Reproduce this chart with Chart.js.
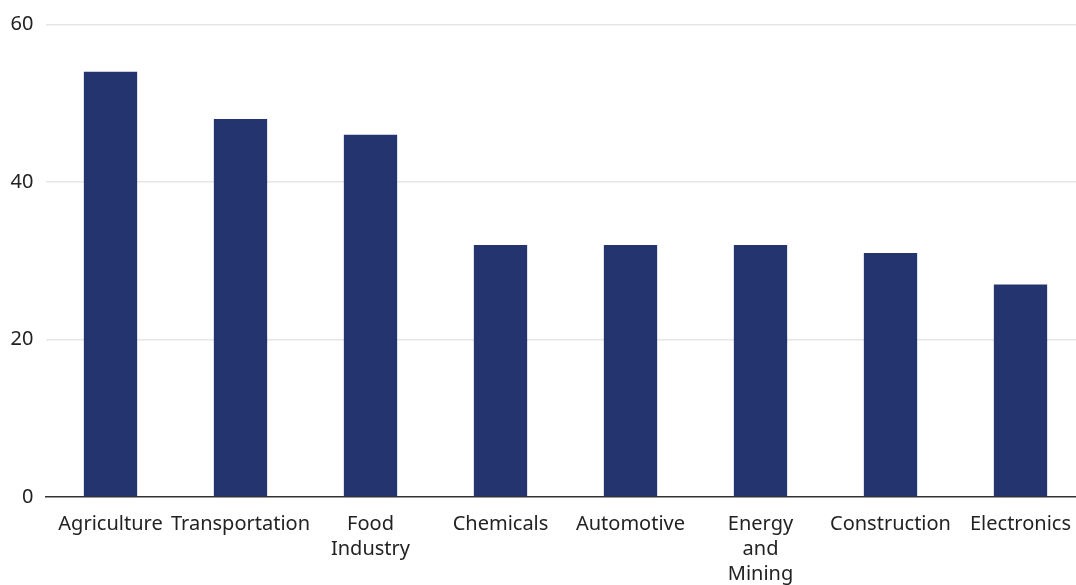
<!DOCTYPE html>
<html>
<head>
<meta charset="utf-8">
<script src="https://cdn.jsdelivr.net/npm/chart.js@4"></script>
<style>
html,body{margin:0;padding:0;background:#fff;overflow:hidden;}
#wrap{position:relative;width:1090px;height:585px;}
</style>
</head>
<body>
<div id="wrap"><canvas id="c" width="1090" height="585"></canvas></div>
<script>
const categories = [
  "Agriculture",
  "Transportation",
  ["Food", "Industry"],
  "Chemicals",
  "Automotive",
  ["Energy", "and", "Mining"],
  "Construction",
  "Electronics"
];
const values = [54, 48, 46, 32, 32, 32, 31, 27];
const yTicks = [0, 20, 40, 60];

const FONT = {family: "'Noto Sans', sans-serif", size: 20, lineHeight: 1.25};

new Chart(document.getElementById('c'), {
  type: 'bar',
  data: {
    labels: categories,
    datasets: [{
      data: values,
      backgroundColor: '#24346e',
      borderWidth: 0,
      categoryPercentage: 1,
      barPercentage: 0.41
    }]
  },
  options: {
    responsive: false,
    animation: false,
    devicePixelRatio: 1,
    layout: {padding: {top: 0, right: 4.5, left: 0, bottom: 0}},
    plugins: {legend: {display: false}, tooltip: {enabled: false}},
    scales: {
      x: {
        grid: {display: false, drawTicks: false},
        border: {display: true, color: '#333333', width: 1.5},
        ticks: {
          font: FONT,
          color: '#222222',
          padding: 15,
          maxRotation: 0,
          autoSkip: false
        },
        afterFit: (s) => { s.height = 88; }
      },
      y: {
        min: 0,
        max: 60,
        afterBuildTicks: (s) => { s.ticks = yTicks.map(v => ({value: v})); },
        grid: {
          drawTicks: false,
          color: (ctx) => ctx.tick && ctx.tick.value === 0 ? 'rgba(0,0,0,0)' : '#e6e6e6',
          lineWidth: 1.5
        },
        border: {display: false},
        ticks: {
          font: FONT,
          color: '#222222',
          padding: 12
        },
        afterFit: (s) => { s.width = 45.5; }
      }
    }
  }
});
</script>
</body>
</html>
